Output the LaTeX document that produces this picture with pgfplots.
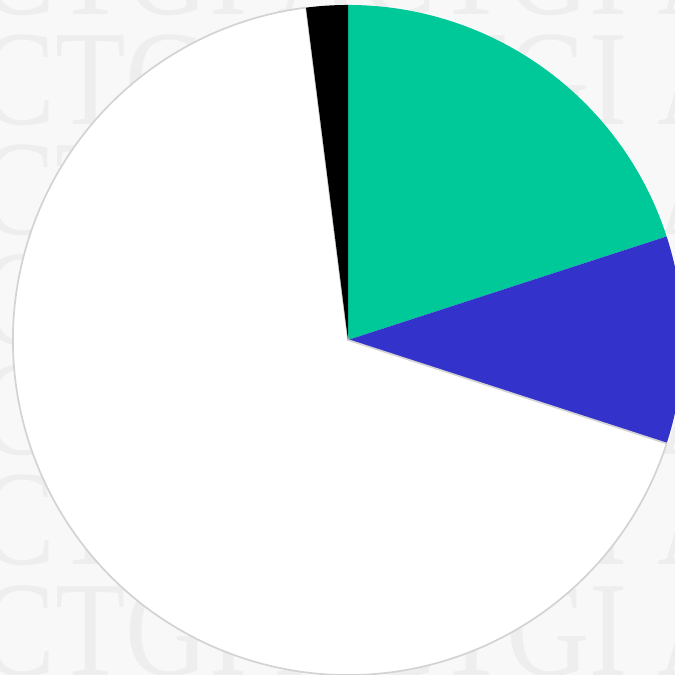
\documentclass[border=0pt]{standalone}
\usepackage{pgfplots}
\pgfplotsset{compat=1.18}
\usepackage{pgfplotstable}
\usepackage{fontspec}
\setmainfont{Liberation Serif}
\definecolor{pgreen}{HTML}{00C999}
\definecolor{pblue}{HTML}{3333CC}
\definecolor{bgc}{HTML}{F8F8F8}
\definecolor{wm}{HTML}{EEEEEE}
\definecolor{edge}{HTML}{D3D3D3}

\pgfplotstableread{
share slicecol stroke
20 pgreen none
10 pblue none
68 white edge
2 black none
}\piedata

\begin{document}
\begin{tikzpicture}
\begin{axis}[
  width=7cm, height=7cm, scale only axis,
  xmin=-1.0388, xmax=0.9761, ymin=-1.0, ymax=1.0149,
  axis lines=none, clip=true,
  axis background/.style={fill=bgc},
]
% faint watermark rows
\pgfplotsinvokeforeach{15,125,235,345,455,565,675}{
  \node[anchor=base west, text=wm, font=\fontsize{40}{40}\selectfont, xscale=0.85, inner sep=0pt]
    at (axis cs:{(-22-348)/335},{(340-#1)/335}) {CTGI ACTGI ACTGI};
}
\def\startang{90}
\pgfplotsforeachungrouped \i in {0,...,3}{
  \pgfplotstablegetelem{\i}{share}\of\piedata \let\sliceval\pgfplotsretval
  \pgfplotstablegetelem{\i}{slicecol}\of\piedata \let\slicecolor\pgfplotsretval
  \pgfplotstablegetelem{\i}{stroke}\of\piedata \let\slicestroke\pgfplotsretval
  \pgfmathsetmacro\endang{\startang-3.6*\sliceval}
  \edef\temp{\noexpand\filldraw[fill=\slicecolor, draw=\slicestroke, line width=0.5pt, line join=round]
    (axis cs:0,0) -- (axis cs:{cos(\startang)},{sin(\startang)})
    arc[start angle=\startang, end angle=\endang, radius=1] -- cycle;}
  \temp
  \global\let\startang\endang
}
\end{axis}
\pgfresetboundingbox
\useasboundingbox (current axis.south west) rectangle (current axis.north east);
\end{tikzpicture}
\end{document}
